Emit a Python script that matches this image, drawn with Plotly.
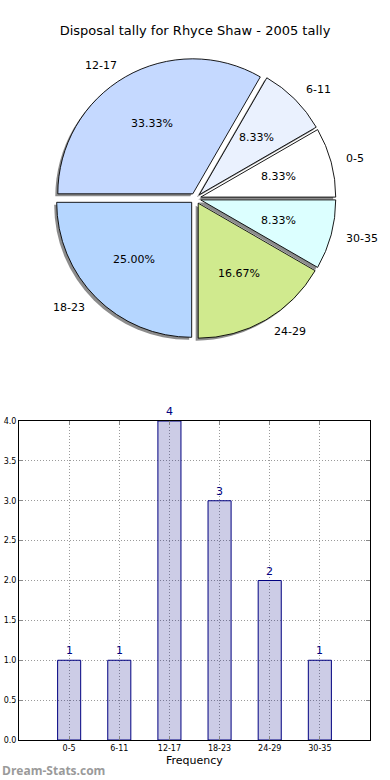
import math
import plotly.graph_objects as go

# ---- data ----
categories = ["0-5", "6-11", "12-17", "18-23", "24-29", "30-35"]
counts = [1, 1, 4, 3, 2, 1]
pie_colors = ["#ffffff", "#eaf1fe", "#c5d9ff", "#b5d6ff", "#d0ea8e", "#dcffff"]
title_text = "Disposal tally for Rhyce Shaw - 2005 tally"
x_title = "Frequency"
y_ticks = [0.0, 0.5, 1.0, 1.5, 2.0, 2.5, 3.0, 3.5, 4.0]

W, H = 390, 780
FONT = "DejaVu Sans"

# pie geometry (pixels)
cx, cy = 195.5, 198.5
R = 135.0
pull = 0.04
half = R * (1 + pull)
dom_x = [(cx - half) / W, (cx + half) / W]
dom_y = [(H - cy - half) / H, (H - cy + half) / H]

total = sum(counts)
# plotly: clockwise from east, so reverse the order
rev_vals = counts[::-1]
rev_cols = pie_colors[::-1]
rev_labels = categories[::-1]

fig = go.Figure()

# shadow
sdx, sdy = -2.5 / W, -2.5 / H
fig.add_trace(go.Pie(
    values=rev_vals, labels=rev_labels, sort=False, direction="clockwise",
    rotation=90, pull=pull, textinfo="none", hoverinfo="skip",
    marker=dict(colors=["rgb(140,140,140)"] * len(rev_vals), line=dict(width=0)),
    domain=dict(x=[dom_x[0] + sdx, dom_x[1] + sdx], y=[dom_y[0] + sdy, dom_y[1] + sdy]),
    showlegend=False,
))
fig.add_trace(go.Pie(
    values=rev_vals, labels=rev_labels, sort=False, direction="clockwise",
    rotation=90, pull=pull, textinfo="none", hoverinfo="skip",
    marker=dict(colors=rev_cols, line=dict(color="black", width=0.9)),
    domain=dict(x=dom_x, y=dom_y),
    showlegend=False,
))

annotations = []
# pie labels & percentages (matplotlib style positions)
cum = 0.0
for lab, v in zip(categories, counts):
    frac = v / total
    mid = (cum + frac / 2) * 2 * math.pi
    cum += frac
    c, s = math.cos(mid), math.sin(mid)
    ox, oy = cx + pull * R * c, cy - pull * R * s
    lx, ly = ox + 1.1 * R * c, oy - 1.1 * R * s
    annotations.append(dict(
        x=lx / W, y=(H - ly) / H, xref="paper", yref="paper", text=lab,
        showarrow=False, xanchor="left" if c > 0 else "right", yanchor="middle",
        font=dict(family=FONT, size=11, color="black")))
    px_, py_ = ox + 0.6 * R * c, oy - 0.6 * R * s
    annotations.append(dict(
        x=px_ / W, y=(H - py_) / H, xref="paper", yref="paper",
        text="%.2f%%" % (frac * 100), showarrow=False,
        xanchor="center", yanchor="middle",
        font=dict(family=FONT, size=11, color="black")))

# bar chart
fig.add_trace(go.Bar(
    x=categories, y=counts, width=0.46,
    marker=dict(color="rgba(0,0,128,0.2)", line=dict(color="#000080", width=1)),
    hoverinfo="skip", showlegend=False, cliponaxis=False,
))
for cat, v in zip(categories, counts):
    annotations.append(dict(
        x=cat, y=v, xref="x", yref="y", text=str(v), showarrow=False,
        yanchor="bottom", yshift=1, font=dict(family=FONT, size=11, color="#000080")))

# x-axis title
annotations.append(dict(
    x=(19 + 370) / 2 / W, y=(H - 760) / H, xref="paper", yref="paper", text=x_title,
    showarrow=False, xanchor="center", yanchor="middle",
    font=dict(family=FONT, size=11, color="black")))

annotations.append(dict(
    x=0.0, y=(H - 770) / H, xref="paper", yref="paper", text="<b>Dream-Stats.com</b>",
    showarrow=False, xanchor="left", yanchor="middle",
    font=dict(family="Open Sans", size=12, color="#9a9a9a")))

GRID = dict(showgrid=True, gridcolor="#9a9a9a", griddash="1px,2px", gridwidth=1)

fig.update_layout(
    width=W, height=H,
    margin=dict(l=0, r=0, t=0, b=0, pad=0),
    paper_bgcolor="white", plot_bgcolor="white",
    title=dict(text=title_text, x=0.5, xanchor="center", y=(H - 30) / H, yanchor="middle",
               font=dict(family=FONT, size=13, color="black")),
    annotations=annotations,
    xaxis=dict(
        domain=[19 / W, 370 / W], range=[-1, 6], type="category",
        showline=True, mirror="ticks", linecolor="black", linewidth=1,
        ticks="inside", ticklen=4, tickcolor="#888888",
        tickfont=dict(family=FONT, size=8, color="black"),
        automargin=False,
        zeroline=False, fixedrange=True, **GRID,
    ),
    yaxis=dict(
        domain=[40 / H, 359 / H], range=[0, 4],
        tickvals=y_ticks, ticktext=["%.1f" % t for t in y_ticks],
        showline=True, mirror="ticks", linecolor="black", linewidth=1,
        ticks="inside", ticklen=4, tickcolor="#888888",
        tickfont=dict(family=FONT, size=8, color="black"),
        automargin=False,
        zeroline=False, fixedrange=True, **GRID,
    ),
    font=dict(family=FONT),
)

fig.write_html("out.html", config={"displayModeBar": False},
               post_script="document.body.style.margin='0';")
